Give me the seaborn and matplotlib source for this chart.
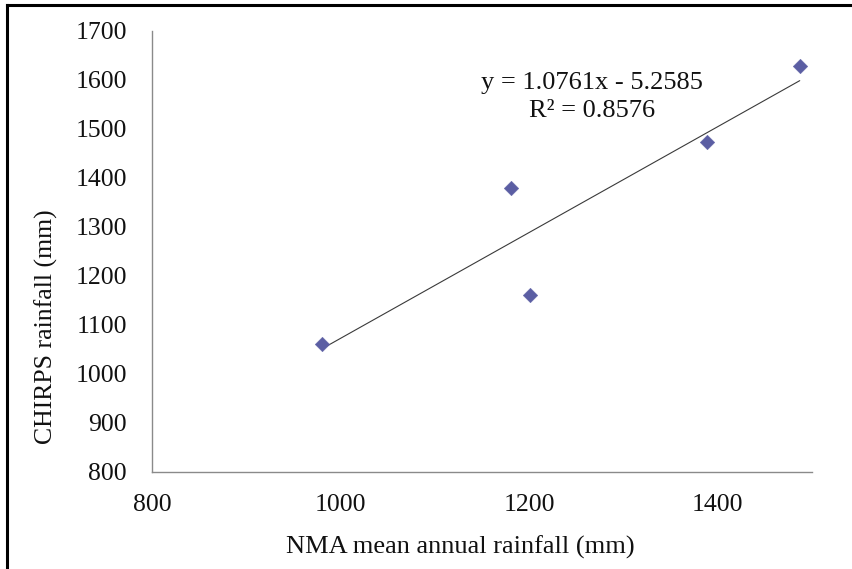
import matplotlib
matplotlib.use("Agg")
import matplotlib.pyplot as plt
import seaborn as sns
import pandas as pd
from matplotlib.lines import Line2D

# Data
nma_rainfall = [980, 1181, 1201, 1389, 1487]
chirps_rainfall = [1061, 1379, 1160, 1472, 1627]
x_ticks = [800, 1000, 1200, 1400]
y_ticks = [800, 900, 1000, 1100, 1200, 1300, 1400, 1500, 1600, 1700]
equation_text = "y = 1.0761x - 5.2585"
r2_text = "R² = 0.8576"

df = pd.DataFrame({"NMA": nma_rainfall, "CHIRPS": chirps_rainfall})

sns.set_theme(style="white")
plt.rcParams["font.family"] = ["Liberation Serif", "DejaVu Serif"]

FS = 18.5
W, H = 853, 569
fig = plt.figure(figsize=(W / 100, H / 100), dpi=100)
left, right, top, bottom = 152, 812, 30.7, 472
ax = fig.add_axes([left / W, 1 - bottom / H, (right - left) / W, (bottom - top) / H])

sns.regplot(data=df, x="NMA", y="CHIRPS", scatter=False, ci=None, truncate=True,
            line_kws=dict(color="#3a3a3a", lw=0.8), ax=ax)
sns.scatterplot(data=df, x="NMA", y="CHIRPS", marker="D", s=55, color="#5b5ea3",
                edgecolor="#5b5ea3", linewidth=0.3, ax=ax, zorder=3)

ax.set_xlim(800, 1500)
ax.set_ylim(800, 1700)
ax.set_xticks(x_ticks)
ax.set_yticks(y_ticks)
ax.tick_params(axis="both", labelsize=FS, colors="#8a8a8a", labelcolor="#111111",
               length=6, width=1, direction="out")
ax.tick_params(axis="y", pad=12)
ax.tick_params(axis="x", pad=10)

for s in ["top", "right"]:
    ax.spines[s].set_visible(False)
for s in ["left", "bottom"]:
    ax.spines[s].set_color("#8a8a8a")
    ax.spines[s].set_linewidth(1)

ax.set_xlabel("NMA mean annual rainfall (mm)", fontsize=FS + 0.5, color="#111111")
ax.set_ylabel("CHIRPS rainfall (mm)", fontsize=FS, color="#111111")
ax.xaxis.set_label_coords((460 - left) / (right - left), (bottom - 536) / (bottom - top))
ax.yaxis.set_label_coords((58 - left) / (right - left), (bottom - 327) / (bottom - top))

ax.text((592 - left) / (right - left), (bottom - 83) / (bottom - top), equation_text,
        transform=ax.transAxes, ha="center", va="center", fontsize=FS + 0.5, color="#111111")
ax.text((592 - left) / (right - left), (bottom - 111) / (bottom - top), r2_text,
        transform=ax.transAxes, ha="center", va="center", fontsize=FS + 0.5, color="#111111")

# outer frame (left and top edges visible in the reference)
fig.add_artist(Line2D([7 / W, 7 / W], [0, 1 - 5 / H], transform=fig.transFigure,
                      color="black", lw=2.2, solid_capstyle="projecting"))
fig.add_artist(Line2D([7 / W, 1], [1 - 5 / H, 1 - 5 / H], transform=fig.transFigure,
                      color="black", lw=2.2, solid_capstyle="projecting"))

fig.savefig("out.png", dpi=100)
